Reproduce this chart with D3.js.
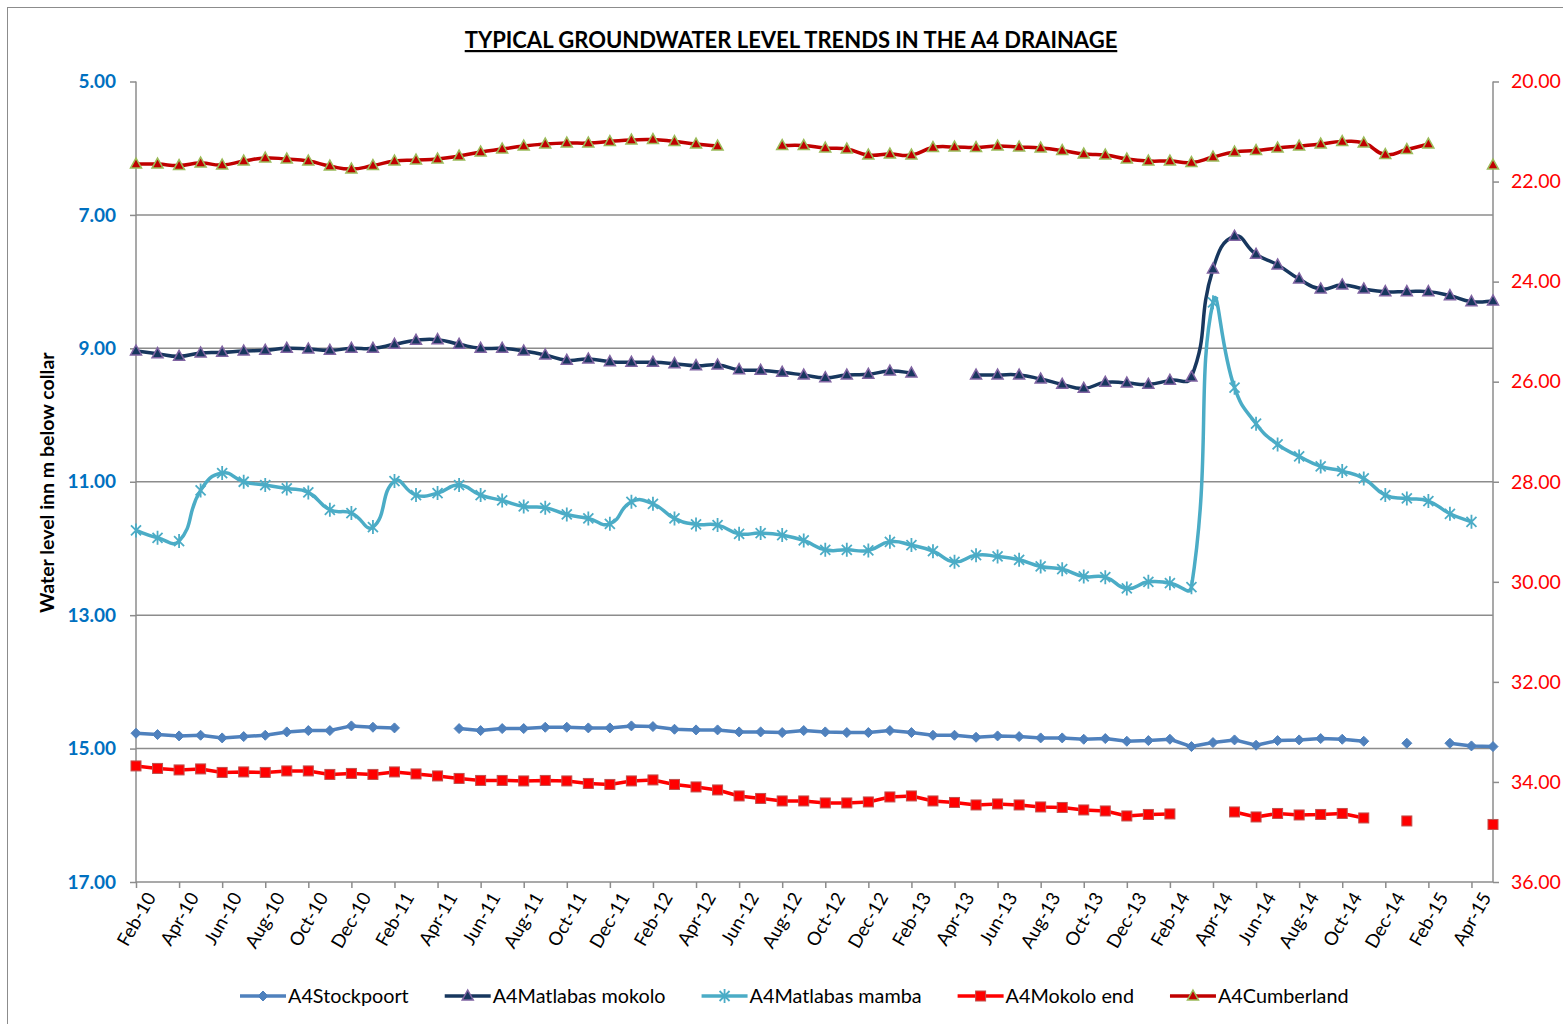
<!DOCTYPE html>
<html>
<head>
<meta charset="utf-8">
<title>Typical groundwater level trends in the A4 drainage</title>
<script src="https://d3js.org/d3.v7.min.js"></script>
<style>
  body { margin: 0; background: #fff; }
  text { font-family: Lato, "Open Sans", sans-serif; }
</style>
</head>
<body>
<script>
// month categories, Feb-10 .. May-15
const months = [
  "Feb-10","Mar-10","Apr-10","May-10","Jun-10","Jul-10","Aug-10","Sep-10","Oct-10","Nov-10","Dec-10","Jan-11",
  "Feb-11","Mar-11","Apr-11","May-11","Jun-11","Jul-11","Aug-11","Sep-11","Oct-11","Nov-11","Dec-11","Jan-12",
  "Feb-12","Mar-12","Apr-12","May-12","Jun-12","Jul-12","Aug-12","Sep-12","Oct-12","Nov-12","Dec-12","Jan-13",
  "Feb-13","Mar-13","Apr-13","May-13","Jun-13","Jul-13","Aug-13","Sep-13","Oct-13","Nov-13","Dec-13","Jan-14",
  "Feb-14","Mar-14","Apr-14","May-14","Jun-14","Jul-14","Aug-14","Sep-14","Oct-14","Nov-14","Dec-14","Jan-15",
  "Feb-15","Mar-15","Apr-15","May-15"
];

// left axis (m below collar)
const stockpoort = [
  14.77,14.79,14.81,14.80,14.84,14.82,14.80,14.75,14.73,14.73,14.66,14.68,
  14.69,null,null,14.70,14.73,14.70,14.70,14.68,14.68,14.69,14.69,14.66,
  14.67,14.71,14.72,14.72,14.75,14.75,14.76,14.73,14.75,14.76,14.76,14.73,
  14.76,14.80,14.80,14.83,14.81,14.82,14.84,14.84,14.86,14.85,14.89,14.88,
  14.86,14.97,14.91,14.87,14.95,14.88,14.87,14.85,14.86,14.89,null,14.92,
  null,14.92,14.96,14.97
];
const matlabasMokolo = [
  9.04,9.08,9.12,9.07,9.06,9.04,9.03,9.00,9.01,9.03,9.00,9.00,
  8.94,8.88,8.87,8.94,9.00,9.00,9.04,9.10,9.18,9.16,9.20,9.21,
  9.21,9.23,9.26,9.25,9.32,9.33,9.36,9.40,9.44,9.40,9.39,9.34,
  9.37,null,null,9.40,9.40,9.40,9.46,9.54,9.60,9.51,9.52,9.54,
  9.48,9.43,7.81,7.32,7.59,7.75,7.96,8.11,8.05,8.11,8.15,8.15,
  8.15,8.21,8.30,8.29
];
const matlabasMamba = [
  11.73,11.84,11.89,11.13,10.87,11.00,11.05,11.10,11.16,11.42,11.47,11.68,
  10.99,11.20,11.17,11.05,11.20,11.28,11.37,11.39,11.49,11.55,11.63,11.30,
  11.33,11.55,11.64,11.65,11.78,11.77,11.80,11.88,12.02,12.02,12.03,11.90,
  11.95,12.04,12.20,12.10,12.12,12.17,12.27,12.31,12.42,12.43,12.60,12.50,
  12.52,12.58,8.31,9.59,10.13,10.44,10.62,10.77,10.84,10.95,11.20,11.25,
  11.29,11.48,11.60,null
];
// right axis
const mokoloEnd = [
  33.68,33.73,33.76,33.74,33.81,33.80,33.81,33.78,33.78,33.85,33.83,33.85,
  33.80,33.84,33.88,33.93,33.97,33.97,33.98,33.97,33.98,34.03,34.05,33.98,
  33.96,34.05,34.10,34.16,34.28,34.33,34.38,34.38,34.42,34.42,34.40,34.30,
  34.28,34.38,34.41,34.46,34.44,34.46,34.50,34.51,34.56,34.58,34.68,34.65,
  34.64,null,null,34.60,34.70,34.63,34.66,34.65,34.63,34.72,null,34.78,
  null,null,null,34.85
];
const cumberland = [
  21.65,21.65,21.68,21.63,21.67,21.59,21.53,21.55,21.59,21.69,21.75,21.68,
  21.59,21.57,21.55,21.49,21.41,21.35,21.29,21.25,21.23,21.23,21.20,21.17,
  21.16,21.20,21.25,21.29,null,null,21.28,21.28,21.33,21.35,21.47,21.45,
  21.47,21.32,21.31,21.32,21.29,21.31,21.33,21.38,21.45,21.47,21.55,21.59,
  21.59,21.62,21.51,21.41,21.38,21.33,21.29,21.25,21.20,21.23,21.46,21.36,
  21.25,null,null,21.67
];

const leftTicks = [5, 7, 9, 11, 13, 15, 17];
const rightTicks = [20, 22, 24, 26, 28, 30, 32, 34, 36];

const width = 1563, height = 1024;
const plot = { left: 136, right: 1493, top: 81.5, bottom: 882 };

const svg = d3.select("body").append("svg")
    .attr("width", width)
    .attr("height", height);

svg.append("rect")
    .attr("x", 0).attr("y", 0)
    .attr("width", width).attr("height", height)
    .attr("fill", "#fff");

// chart area border (right and bottom edges fall outside the picture)
svg.append("rect")
    .attr("x", 7.5).attr("y", 7.5)
    .attr("width", width).attr("height", height)
    .attr("fill", "none")
    .attr("stroke", "#8c8c8c")
    .attr("stroke-width", 1);

const x = d3.scalePoint().domain(months).range([plot.left, plot.right]);
const yL = d3.scaleLinear().domain([5, 17]).range([plot.top, plot.bottom]);
const yR = d3.scaleLinear().domain([20, 36]).range([plot.top, plot.bottom]);

// gridlines
svg.append("g").selectAll("line")
    .data(leftTicks.slice(1, -1))
    .join("line")
    .attr("x1", plot.left).attr("x2", plot.right)
    .attr("y1", d => yL(d)).attr("y2", d => yL(d))
    .attr("stroke", "#8c8c8c")
    .attr("stroke-width", 1.5);

// axes
const axisL = svg.append("g")
    .attr("transform", `translate(${plot.left},0)`)
    .call(d3.axisLeft(yL).tickValues(leftTicks).tickFormat(d3.format(".2f")).tickSize(6).tickPadding(14));
axisL.selectAll("text")
    .attr("fill", "#0070c0")
    .attr("font-weight", "bold")
    .attr("font-size", 19);

const axisR = svg.append("g")
    .attr("transform", `translate(${plot.right},0)`)
    .call(d3.axisRight(yR).tickValues(rightTicks).tickFormat(d3.format(".2f")).tickSize(6).tickPadding(12));
axisR.selectAll("text")
    .attr("fill", "#ff0000")
    .attr("font-size", 19.5);

const axisB = svg.append("g")
    .attr("transform", `translate(0,${plot.bottom})`)
    .call(d3.axisBottom(x).tickValues(months.filter((m, i) => i % 2 === 0)).tickSize(6).tickPadding(6));
axisB.selectAll("text")
    .attr("fill", "#000")
    .attr("font-size", 18.5)
    .attr("text-anchor", "end")
    .attr("dy", "0.35em")
    .attr("transform", "translate(4,6) rotate(-60)");

[axisL, axisR, axisB].forEach(a => {
  a.select(".domain").attr("stroke", "#8c8c8c").attr("stroke-width", 1.5);
  a.selectAll(".tick line").attr("stroke", "#8c8c8c").attr("stroke-width", 1.5);
});
axisL.select(".domain").attr("d", `M0,${plot.top}V${plot.bottom}`);
axisR.select(".domain").attr("d", `M0,${plot.top}V${plot.bottom}`);
axisB.select(".domain").attr("d", `M${plot.left},0H${plot.right}`);

// marker shapes
const markers = {
  diamond: g => g.append("path").attr("d", "M0,-5L5,0L0,5L-5,0Z"),
  triangle: g => g.append("path").attr("d", "M0,-6L5.5,4L-5.5,4Z"),
  square: g => g.append("rect").attr("x", -5).attr("y", -5).attr("width", 10).attr("height", 10),
  star: g => g.append("path").attr("d", "M-5,-5L5,5M-5,5L5,-5M0,-7L0,7")
};

// spreadsheet-style smoothing: bezier arms scaled by the neighbouring segment lengths
function smoothRun(p, f) {
  const dist = (a, b) => Math.hypot(b[0] - a[0], b[1] - a[1]);
  const n = p.length;
  let d = `M${p[0][0]},${p[0][1]}`;
  if (n < 2) return d;
  const cin = [], cout = [];
  for (let i = 0; i < n; i++) {
    const prev = p[i - 1] || p[i], next = p[i + 1] || p[i];
    const d1 = dist(prev, p[i]), d2 = dist(p[i], next);
    const tx = next[0] - prev[0], ty = next[1] - prev[1];
    const s = d1 + d2 || 1;
    const k = (i === 0 || i === n - 1) ? 1 / 3 : f;
    cin[i] = [p[i][0] - tx * k * d1 / s, p[i][1] - ty * k * d1 / s];
    cout[i] = [p[i][0] + tx * k * d2 / s, p[i][1] + ty * k * d2 / s];
  }
  for (let i = 0; i < n - 1; i++) {
    d += `C${cout[i][0]},${cout[i][1]} ${cin[i + 1][0]},${cin[i + 1][1]} ${p[i + 1][0]},${p[i + 1][1]}`;
  }
  return d;
}

function smoothPath(pts) {
  const runs = [];
  let cur = [];
  pts.forEach(p => {
    if (p == null) { if (cur.length) runs.push(cur); cur = []; }
    else cur.push(p);
  });
  if (cur.length) runs.push(cur);
  return runs.filter(r => r.length > 1).map(r => smoothRun(r, 0.5)).join("");
}

const series = [
  { name: "A4Stockpoort", values: stockpoort, y: yL, color: "#4f81bd", smooth: false,
    marker: "diamond", fill: "#4f81bd", stroke: "#4f81bd", sw: 1 },
  { name: "A4Matlabas mokolo", values: matlabasMokolo, y: yL, color: "#17375e", smooth: true,
    marker: "triangle", fill: "#17375e", stroke: "#8064a2", sw: 1.5 },
  { name: "A4Matlabas mamba", values: matlabasMamba, y: yL, color: "#4bacc6", smooth: true,
    marker: "star", fill: "none", stroke: "#4bacc6", sw: 1.8 },
  { name: "A4Mokolo end", values: mokoloEnd, y: yR, color: "#ff0000", smooth: false,
    marker: "square", fill: "#ff0000", stroke: "#c0504d", sw: 1 },
  { name: "A4Cumberland", values: cumberland, y: yR, color: "#c00000", smooth: true,
    marker: "triangle", fill: "#c00000", stroke: "#9bbb59", sw: 1.5 }
];

series.forEach(s => {
  const pts = months.map((m, i) => ({ m, v: s.values[i] }));
  let pathD;
  if (s.smooth) {
    pathD = smoothPath(pts.map(d => d.v == null ? null : [x(d.m), s.y(d.v)]));
  } else {
    pathD = d3.line()
        .defined(d => d.v != null)
        .x(d => x(d.m))
        .y(d => s.y(d.v))(pts);
  }
  svg.append("path")
      .attr("fill", "none")
      .attr("stroke", s.color)
      .attr("stroke-width", 3.5)
      .attr("stroke-linejoin", "round")
      .attr("d", pathD);
  svg.append("g").selectAll("g")
      .data(pts.filter(d => d.v != null))
      .join("g")
      .attr("transform", d => `translate(${x(d.m)},${s.y(d.v)})`)
      .each(function () {
        markers[s.marker](d3.select(this))
            .attr("fill", s.fill)
            .attr("stroke", s.stroke)
            .attr("stroke-width", s.sw);
      });
});

// title
svg.append("text")
    .attr("x", 791).attr("y", 48)
    .attr("text-anchor", "middle")
    .attr("font-size", 22)
    .attr("font-weight", "bold")
    .attr("text-decoration", "underline")
    .text("TYPICAL GROUNDWATER LEVEL TRENDS IN THE A4 DRAINAGE");

// y axis title
svg.append("text")
    .attr("transform", `translate(54,${(plot.top + plot.bottom) / 2 + 1}) rotate(-90)`)
    .attr("text-anchor", "middle")
    .attr("font-size", 19.5)
    .attr("font-weight", "bold")
    .text("Water level inn m below collar");

// legend
const legend = svg.append("g").attr("transform", "translate(0,996)");
let lx = 240;
series.forEach(s => {
  const item = legend.append("g").attr("transform", `translate(${lx},0)`);
  item.append("line")
      .attr("x1", 0).attr("x2", 46)
      .attr("stroke", s.color).attr("stroke-width", 3.5);
  markers[s.marker](item.append("g").attr("transform", "translate(23,0)"))
      .attr("fill", s.fill)
      .attr("stroke", s.stroke)
      .attr("stroke-width", s.sw);
  const t = item.append("text")
      .attr("x", 48).attr("dy", "0.35em")
      .attr("font-size", 19.8)
      .text(s.name);
  lx += 48 + t.node().getComputedTextLength() + 36;
});
</script>
</body>
</html>
